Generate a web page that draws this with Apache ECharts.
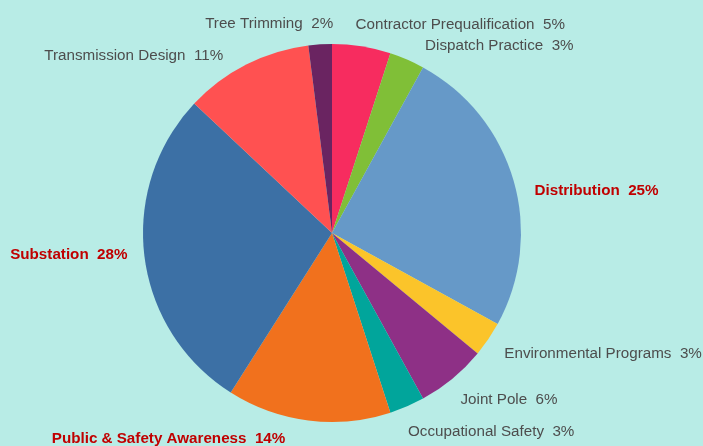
<!DOCTYPE html>
<html>
<head>
<meta charset="utf-8">
<script src="https://cdn.jsdelivr.net/npm/echarts@6/dist/echarts.min.js"></script>
<style>
  html, body { margin: 0; padding: 0; background: #b8ece6; }
  #chart { width: 703px; height: 446px; }
</style>
</head>
<body>
<div id="chart"></div>
<script>
// Training hours by program area (percent of total)
const categories = [
  'Contractor Prequalification', 'Dispatch Practice', 'Distribution',
  'Environmental Programs', 'Joint Pole', 'Occupational Safety',
  'Public & Safety Awareness', 'Substation', 'Transmission Design', 'Tree Trimming'
];
const shares = [5, 3, 25, 3, 6, 3, 14, 28, 11, 2];
const sliceColors = [
  '#f72c5f', '#80bf37', '#6699c8', '#fbc42a', '#8e3086',
  '#01a59b', '#f1711d', '#3c70a5', '#ff5151', '#6a2461'
];
// label nudges from each slice's rim midpoint, and text alignment
const labelNudges = [
  [-6, -22], [18, -14], [21, 11], [16, 15], [8, 21],
  [1, 25], [-23, 18], [-17, -2], [-23, -9], [13, -21]
];
const labelAligns = ['left', 'left', 'left', 'left', 'left', 'left', 'right', 'right', 'right', 'right'];
const emphasized = ['Distribution', 'Public & Safety Awareness', 'Substation'];

const CX = 332, CY = 233, R = 189;
const total = shares.reduce((a, b) => a + b, 0);
const midAngles = [];
let acc = 0;
shares.forEach(v => {
  midAngles.push((acc + v / 2) / total * 2 * Math.PI);
  acc += v;
});

const chart = echarts.init(document.getElementById('chart'));
chart.setOption({
  backgroundColor: '#b8ece6',
  animation: false,
  series: [{
    type: 'pie',
    center: [CX, CY],
    radius: R,
    startAngle: 90,
    clockwise: true,
    avoidLabelOverlap: false,
    silent: true,
    data: categories.map((name, i) => {
      const strong = emphasized.includes(name);
      return {
        name,
        value: shares[i],
        itemStyle: { color: sliceColors[i] },
        label: {
          color: strong ? '#c00000' : '#4d4d4d',
          fontWeight: strong ? 'bold' : 'normal'
        }
      };
    }),
    label: {
      show: true,
      position: 'outside',
      fontFamily: '"Liberation Sans", Arial, sans-serif',
      fontSize: 15.2,
      formatter: p => p.name + '  ' + Math.round(p.value / total * 100) + '%'
    },
    labelLine: { show: false },
    labelLayout: params => {
      const i = params.dataIndex;
      const a = midAngles[i];
      return {
        x: CX + R * Math.sin(a) + labelNudges[i][0],
        y: CY - R * Math.cos(a) + labelNudges[i][1],
        align: labelAligns[i],
        verticalAlign: 'middle'
      };
    }
  }]
});
</script>
</body>
</html>
